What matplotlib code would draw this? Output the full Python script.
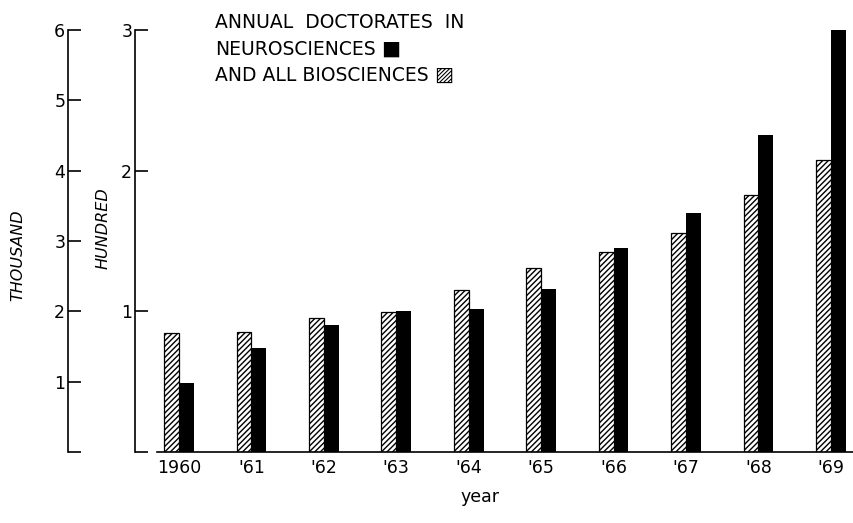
import matplotlib.pyplot as plt
import numpy as np

years = ["1960", "'61", "'62", "'63", "'64", "'65", "'66", "'67", "'68", "'69"]
# all biosciences, thousands (hatched bars, outer scale)
bio_thousand = [1.69, 1.71, 1.91, 1.99, 2.30, 2.62, 2.85, 3.11, 3.66, 4.15]
# neurosciences, hundreds (black bars, inner scale)
neuro_hundred = [0.49, 0.74, 0.90, 1.00, 1.02, 1.16, 1.45, 1.70, 2.25, 3.01]

W, H = 854, 523
fig = plt.figure(figsize=(W / 100, H / 100), dpi=100)
plt.rcParams["hatch.linewidth"] = 1.0

# main axes: left edge is the "thousand" scale
ax = fig.add_axes([68 / W, (H - 452) / H, (854 - 68) / W, (452 - 30) / H])
ax2 = ax.twinx()

x = np.arange(len(years))
bw = 0.205
ax.bar(x - bw / 2, bio_thousand, width=bw, facecolor="white",
       edgecolor="black", hatch="//////", linewidth=0.9, zorder=2)
ax2.bar(x + bw / 2, neuro_hundred, width=bw, color="black", zorder=2)

ax.set_xlim(-1.533, 9.32)
ax.set_ylim(0, 6)
ax2.set_ylim(0, 3)

for s in ["top", "right"]:
    ax.spines[s].set_visible(False)
for s in ["top", "right", "bottom"]:
    ax2.spines[s].set_visible(False)

lw = 1.2
ax.spines["left"].set_linewidth(lw)
ax.spines["bottom"].set_linewidth(lw)
ax.spines["bottom"].set_bounds(-0.30, 9.32)

# inner "hundred" scale
ax2.spines["left"].set_visible(True)
ax2.spines["left"].set_position(("axes", (135 - 68) / (854 - 68)))
ax2.spines["left"].set_linewidth(lw)
ax2.yaxis.set_ticks_position("left")
ax2.yaxis.set_label_position("left")

ax.set_yticks(range(7))
ax.set_yticklabels([""] + [str(i) for i in range(1, 7)])
ax2.set_yticks(range(4))
ax2.set_yticklabels([""] + [str(i) for i in range(1, 4)])
for a in (ax, ax2):
    a.tick_params(axis="y", direction="in", length=9, width=lw,
                  labelsize=12.5, pad=2)

ax.set_xticks(x)
ax.set_xticklabels(years, fontsize=12.5)
ax.tick_params(axis="x", length=0, pad=5)
ax.set_xlabel("year", fontsize=12.5)
ax.xaxis.set_label_coords((480 - 68) / (854 - 68), -0.085)

fig.text(18 / W, 1 - 255 / H, "THOUSAND", rotation=90, style="italic",
         fontsize=11.5, ha="center", va="center")
fig.text(103 / W, 1 - 228 / H, "HUNDRED", rotation=90, style="italic",
         fontsize=11.5, ha="center", va="center")

fs = 13.5
fig.text(215 / W, 1 - 28 / H, "ANNUAL  DOCTORATES  IN", fontsize=fs, va="baseline")
t2 = fig.text(215 / W, 1 - 55 / H, "NEUROSCIENCES", fontsize=fs, va="baseline")
t3 = fig.text(215 / W, 1 - 81 / H, "AND ALL BIOSCIENCES", fontsize=fs, va="baseline")
ax.annotate("\u25A0", xy=(1, 0), xycoords=t2, xytext=(4, 0),
            textcoords="offset points", fontsize=14.5, va="bottom")
ax.annotate("\u25A8", xy=(1, 0), xycoords=t3, xytext=(4, 0),
            textcoords="offset points", fontsize=14.5, va="bottom")

fig.savefig("out.png", dpi=100)
